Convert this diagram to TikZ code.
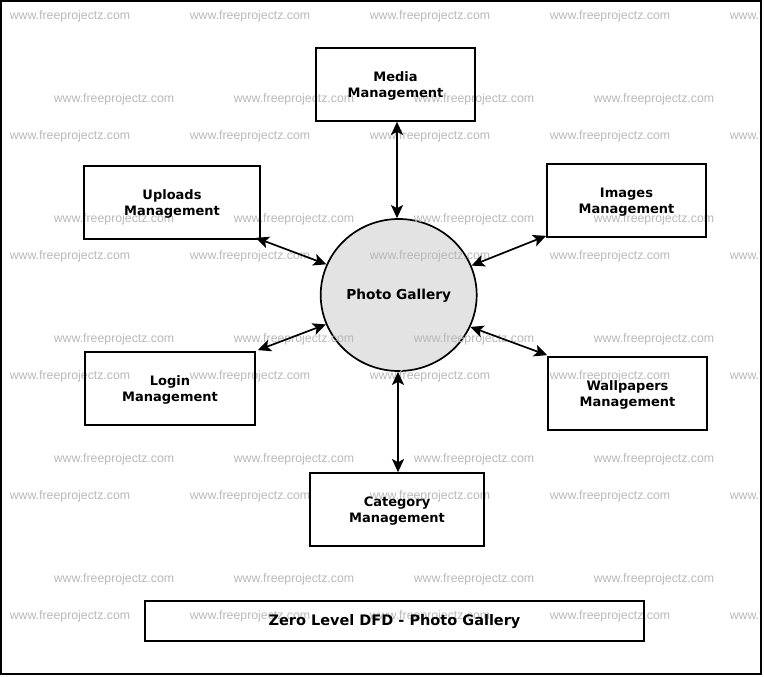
\documentclass[tikz,border=0pt]{standalone}
\usepackage{fontspec}
\setmainfont{DejaVu Sans}
\newfontfamily\markfont{Liberation Sans}
\usetikzlibrary{arrows.meta,shapes.geometric}
\newcommand{\lowerline}{\rule{0pt}{13pt}}
\tikzset{
	process/.style={draw=black,line width=1.7pt,ellipse,fill=black!11,inner sep=0pt,minimum width=156pt,minimum height=152pt,font=\bfseries\fontsize{13.7}{16}\selectfont},
	entity/.style={draw=black,line width=1.7pt,inner sep=0pt,align=center,font=\bfseries\fontsize{13}{16.5}\selectfont},
	flow/.style={line width=1.7pt,<->,>={Stealth[length=13pt,width=12pt,inset=3pt]}},
	wmark/.style={text=black!28,font=\markfont\fontsize{12.3}{14}\selectfont}
}
\begin{document}
\begin{tikzpicture}[x=1pt,y=-1pt]
		\useasboundingbox (0,0) rectangle (764,677);
		\node[process] (photo) at (398.7,295) {\rule{0pt}{12pt}Photo Gallery};
		
		% watermark rows
		\begin{scope}
		\clip (1,1) rectangle (761,674);
		\foreach \col in {0,1,2,3,4}
		{
			\foreach \row in {0,1,2,3,4,5}
				\node[wmark] (wmA\row\col) at (70+180*\col,16+120*\row) {www.freeprojectz.com};
			\foreach \row in {0,1,2,3,4}
				\node[wmark] (wmB\row\col) at (114+180*\col,99+120*\row) {www.freeprojectz.com};
		}
		\end{scope}
		
		\node[entity,minimum width=159pt,minimum height=73pt] (media) at (395.5,84.5) {\lowerline Media\\Management};
		\node[entity,minimum width=176pt,minimum height=73pt] (uploads) at (172,202.5) {\lowerline Uploads\\Management};
		\node[entity,minimum width=159pt,minimum height=73pt] (images) at (626.5,200.5) {\lowerline Images\\Management};
		\node[entity,minimum width=170pt,minimum height=73pt] (login) at (170,388.5) {\lowerline Login\\Management};
		\node[entity,minimum width=159pt,minimum height=73pt] (wallpapers) at (627.5,393.5) {\lowerline Wallpapers\\Management};
		\node[entity,minimum width=174pt,minimum height=73pt] (category) at (397,509.5) {\lowerline Category\\Management};
		\node[entity,minimum width=499pt,minimum height=40pt,font=\bfseries\fontsize{14.5}{17}\selectfont] (title) at (394.5,621) {\lowerline Zero Level DFD - Photo Gallery};
		
		\draw[flow] ([xshift=1.5pt]media.south) -- ([xshift=-1.7pt]photo.north);
		\draw[flow] ([xshift=-5pt,yshift=2pt]uploads.south east) -- (photo.157.6);
		\draw[flow] ([yshift=2pt]images.south west) -- (photo.22.3);
		\draw[flow] ([xshift=2pt,yshift=1pt]login.north east) -- (photo.202.4);
		\draw[flow] ([yshift=1pt]wallpapers.north west) -- (photo.336.8);
		\draw[flow] ([xshift=1pt]category.north) -- ([xshift=-0.7pt]photo.south);
		
		\node[draw=black,line width=2pt,inner sep=0pt,minimum width=760pt,minimum height=673pt] (frame) at (381,337.5) {};
\end{tikzpicture}
\end{document}
